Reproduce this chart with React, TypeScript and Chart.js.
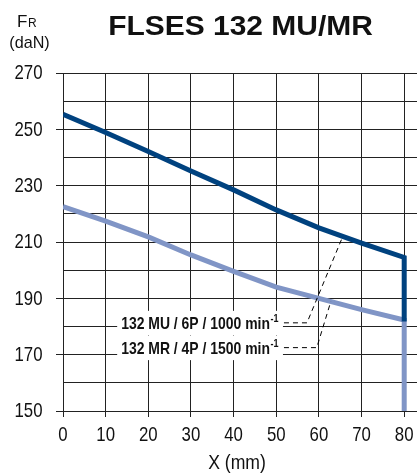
import React, { useEffect, useRef } from 'react';
import { Chart, registerables } from 'chart.js';

Chart.register(...registerables);

// ---- data ----
const muX = [0, 10, 20, 30, 40, 50, 60, 70, 80, 80];
const muValues = [255.3, 248.9, 242.1, 235.2, 228.5, 221.4, 215.0, 209.6, 204.5, 181.8];
const mrX = [0, 10, 20, 30, 40, 50, 60, 70, 80, 80];
const mrValues = [222.6, 217.4, 211.8, 205.4, 199.6, 194.0, 190.0, 186.0, 182.3, 150];
const xTicks = [0, 10, 20, 30, 40, 50, 60, 70, 80];
const yLabelled = [270, 250, 230, 210, 190, 170, 150];
const title = 'FLSES 132 MU/MR';
const xTitle = 'X (mm)';
const legendTexts = ['132 MU / 6P / 1000 min', '132 MR / 4P / 1500 min'];
const legendSup = '-1';
// legend anchors (data units): text row y, leader elbow x, target point on curve
const legendRowY = [181.3, 172.5];
const legendTextEndX = 50.4;
const legendElbowX = [57.2, 59.5];
const legendTarget = [
  [65.6, 212.0],
  [62.8, 188.9],
];

const DARK = '#00427f';
const LIGHT = '#8095c6';
const GRID = '#222';
const SANS = '"Liberation Sans", Arial, sans-serif';

function scaledText(ctx: any, text: string, x: number, y: number, sx: number, align: string) {
  ctx.save();
  ctx.translate(x, y);
  ctx.scale(sx, 1);
  ctx.textAlign = align;
  ctx.fillText(text, 0, 0);
  ctx.restore();
}

const textPlugin = {
  id: 'textPlugin',
  afterDatasetsDraw(chart: any) {
    const { ctx, scales } = chart;
    const xs = scales.x;
    const ys = scales.y;
    ctx.save();
    // leaders
    legendTexts.forEach((_, i) => {
      const yy = ys.getPixelForValue(legendRowY[i]);
      const x0 = xs.getPixelForValue(legendTextEndX) + 6;
      ctx.setLineDash([5, 4]);
      ctx.lineWidth = 1;
      ctx.strokeStyle = '#000';
      ctx.beginPath();
      ctx.moveTo(x0, yy);
      ctx.lineTo(xs.getPixelForValue(legendElbowX[i]), yy);
      ctx.lineTo(xs.getPixelForValue(legendTarget[i][0]), ys.getPixelForValue(legendTarget[i][1]));
      ctx.stroke();
    });
    ctx.setLineDash([]);
    // boxes + text
    const SX = 0.82;
    legendTexts.forEach((t, i) => {
      const yy = ys.getPixelForValue(legendRowY[i]);
      const xr = xs.getPixelForValue(legendTextEndX);
      ctx.font = `bold 17px ${SANS}`;
      const mw = ctx.measureText(t).width * SX;
      ctx.font = `bold 11px ${SANS}`;
      const sw = ctx.measureText(legendSup).width * SX;
      const xl = xr - mw - sw;
      ctx.fillStyle = '#fff';
      ctx.fillRect(xl - 4, yy - 12, mw + sw + 9, 24.5);
      ctx.fillStyle = '#111';
      ctx.textBaseline = 'alphabetic';
      ctx.font = `bold 17px ${SANS}`;
      scaledText(ctx, t, xl, yy + 6, SX, 'left');
      ctx.font = `bold 11px ${SANS}`;
      scaledText(ctx, legendSup, xl + mw + 0.5, yy - 1, SX, 'left');
    });
    ctx.restore();
  },
  afterDraw(chart: any) {
    const { ctx, scales } = chart;
    const xs = scales.x;
    const ys = scales.y;
    ctx.save();
    ctx.fillStyle = '#111';
    // tick labels
    ctx.font = `21px ${SANS}`;
    ctx.textBaseline = 'middle';
    yLabelled.forEach((v) => {
      scaledText(ctx, String(v), 42.5, ys.getPixelForValue(v) + 0.5, 0.8, 'right');
    });
    xTicks.forEach((v) => {
      scaledText(ctx, String(v), xs.getPixelForValue(v), 435.5, 0.8, 'center');
    });
    ctx.font = `20px ${SANS}`;
    scaledText(ctx, xTitle, 237, 463.5, 0.88, 'center');
    // title
    ctx.textBaseline = 'alphabetic';
    ctx.font = `bold 28px ${SANS}`;
    scaledText(ctx, title, 240.5, 35, 1.07, 'center');
    // F_R
    ctx.textAlign = 'left';
    ctx.font = `17px ${SANS}`;
    ctx.fillText('F', 17, 27);
    const fw = ctx.measureText('F').width;
    ctx.font = `12px ${SANS}`;
    ctx.fillText('R', 17 + fw + 0.5, 27);
    ctx.font = `17px ${SANS}`;
    scaledText(ctx, '(daN)', 29.5, 48, 0.95, 'center');
    ctx.restore();
  },
};

export default function App() {
  const ref = useRef<HTMLCanvasElement | null>(null);
  useEffect(() => {
    if (!ref.current) return;
    const chart = new Chart(ref.current, {
      type: 'line',
      data: {
        datasets: [
          {
            label: 'MU',
            data: muX.map((x, i) => ({ x, y: muValues[i] })),
            borderColor: DARK,
            borderWidth: 5,
            pointRadius: 0,
            tension: 0,
            borderJoinStyle: 'miter',
            fill: false,
            order: 0,
          },
          {
            label: 'MR',
            data: mrX.map((x, i) => ({ x, y: mrValues[i] })),
            borderColor: LIGHT,
            borderWidth: 5,
            pointRadius: 0,
            tension: 0,
            borderJoinStyle: 'miter',
            fill: false,
            order: 1,
          },
        ],
      },
      options: {
        responsive: false,
        animation: false,
        layout: { padding: { top: 73, right: 0, left: 0, bottom: 0 } },
        plugins: { legend: { display: false }, tooltip: { enabled: false }, title: { display: false } },
        scales: {
          x: {
            type: 'linear',
            min: 0,
            max: 83,
            afterBuildTicks: (s: any) => {
              s.ticks = xTicks.map((v) => ({ value: v }));
            },
            afterFit: (s: any) => {
              s.height = 64;
            },
            grid: { color: GRID, lineWidth: 1, tickLength: 6, drawTicks: true },
            border: { display: true, color: GRID, width: 1 },
            ticks: { display: false, autoSkip: false, maxRotation: 0 },
            title: { display: false },
          },
          y: {
            type: 'linear',
            min: 150,
            max: 270,
            afterFit: (s: any) => {
              s.width = 63;
            },
            ticks: {
              display: false,
              stepSize: 10,
            },
            grid: {
              color: GRID,
              lineWidth: 1,
              tickLength: 7,
              tickColor: (c: any) => (c.tick && yLabelled.includes(c.tick.value) ? GRID : 'rgba(0,0,0,0)'),
            },
            border: { display: true, color: GRID, width: 1 },
          },
        },
      },
      plugins: [textPlugin],
    } as any);
    return () => chart.destroy();
  }, []);
  return (
    <div style={{ position: 'fixed', left: 0, top: 0, width: 417, height: 475, background: '#fff' }}>
      <canvas ref={ref} width={417} height={475} style={{ display: 'block' }} />
    </div>
  );
}
